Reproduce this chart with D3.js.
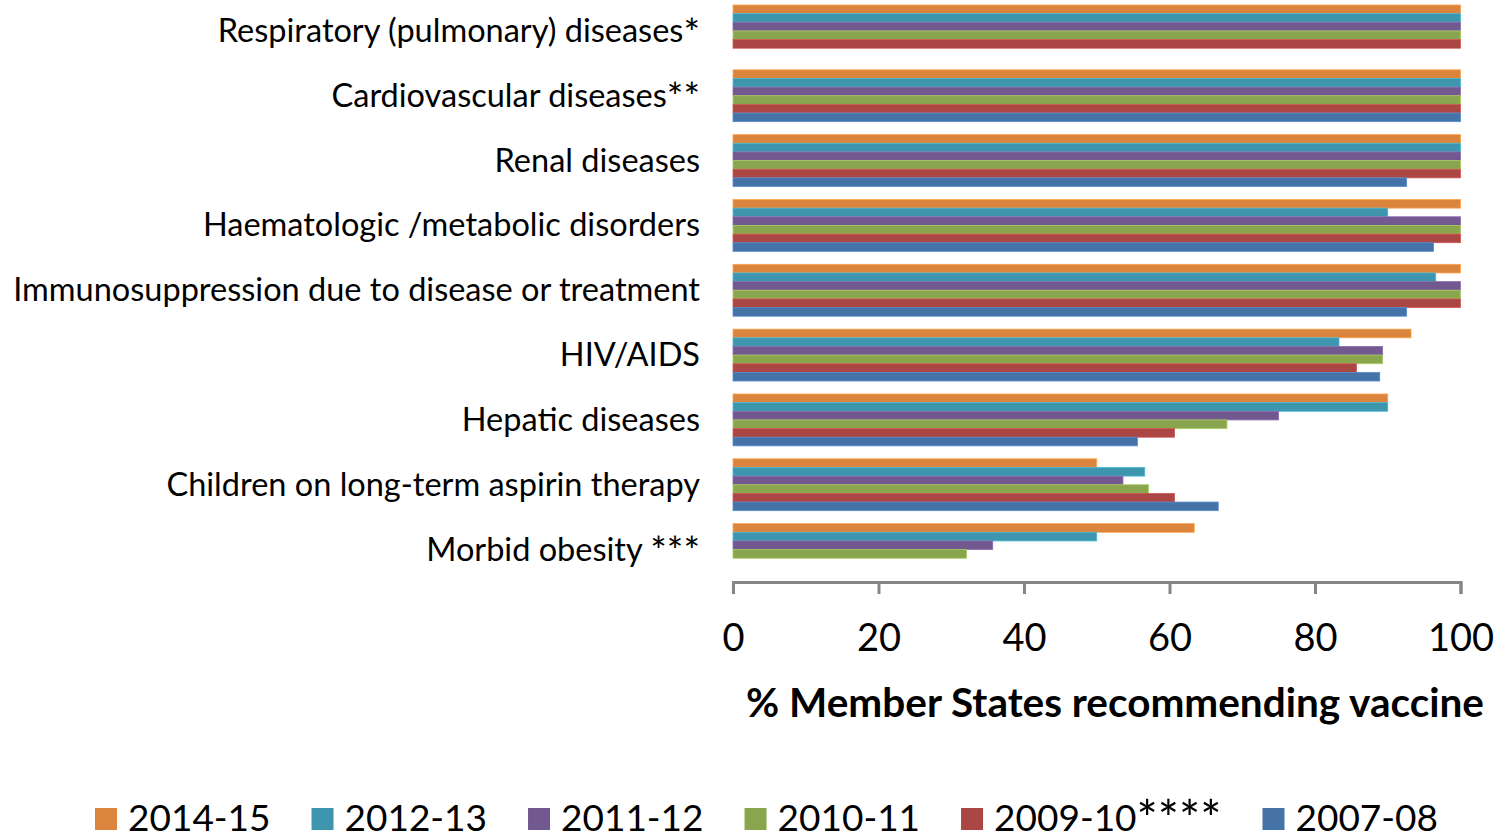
<!DOCTYPE html>
<html><head><meta charset="utf-8">
<script src="https://cdnjs.cloudflare.com/ajax/libs/d3/7.8.5/d3.min.js"></script>
<style>
html,body{margin:0;padding:0;background:#fff;}
svg{display:block;}
text{font-family:Lato,"Open Sans",sans-serif;fill:#000;}
</style></head>
<body>
<svg id="c" width="1501" height="835"></svg>
<script>
const categories = [
  "Respiratory (pulmonary) diseases*",
  "Cardiovascular diseases**",
  "Renal diseases",
  "Haematologic /metabolic disorders",
  "Immunosuppression due to disease or treatment",
  "HIV/AIDS",
  "Hepatic diseases",
  "Children on long-term aspirin therapy",
  "Morbid obesity ***"
];
const seriesNames = ["2014-15","2012-13","2011-12","2010-11","2009-10****","2007-08"];
const seriesColors = ["#DB843D","#3D96AE","#71588F","#89A54E","#AA4643","#4572A7"];
const s2014_15 = [100,100,100,100,100,93.2,90.0,50.0,63.4];
const s2012_13 = [100,100,100,90.0,96.6,83.3,90.0,56.6,50.0];
const s2011_12 = [100,100,100,100,100,89.3,75.0,53.6,35.7];
const s2010_11 = [100,100,100,100,100,89.3,67.9,57.1,32.1];
const s2009_10 = [100,100,100,100,100,85.7,60.7,60.7,null];
const s2007_08 = [null,100,92.6,96.3,92.6,88.9,55.6,66.7,null];
const seriesValues = [s2014_15,s2012_13,s2011_12,s2010_11,s2009_10,s2007_08];
const xTicks = [0,20,40,60,80,100];

const svg = d3.select("#c");
const x = d3.scaleLinear().domain([0,100]).range([733,1460.5]);
const y = d3.scaleBand().domain(categories).range([-1.5,582]).padding(0);
const bw = y.bandwidth()/7.5;
const ys = d3.scaleBand().domain(seriesNames).range([0.75*bw, 6.75*bw]).padding(0);

// write text with larger asterisks (Calibri-like)
function writeText(sel, str, starScale){
  const m = str.match(/^(.*?)(\*+)$/);
  if(!m){ sel.text(str); return; }
  sel.append("tspan").text(m[1]);
  sel.append("tspan").style("font-size", starScale+"em").attr("dy","0.12em").text(m[2]);
}

// bars
seriesNames.forEach((s,si)=>{
  const data = categories.map((c,ci)=>({c, v: seriesValues[si][ci]})).filter(d=>d.v!=null);
  svg.append("g").selectAll("rect").data(data).join("rect")
    .attr("x", x(0))
    .attr("y", d=>y(d.c)+ys(s))
    .attr("width", d=>x(d.v)-x(0))
    .attr("height", ys.bandwidth())
    .attr("fill", seriesColors[si])
    .attr("stroke", d3.color(seriesColors[si]).brighter(0.6))
    .attr("stroke-width", 0.8);
});

// category labels
svg.append("g").selectAll("text").data(categories).join("text")
  .attr("x", 700)
  .attr("y", d=>y(d)+y.bandwidth()/2 + 11)
  .attr("text-anchor","end")
  .style("font-size","32.5px")
  .each(function(d){ writeText(d3.select(this), d, 1.2); });

// axis
const axisY = 582;
const ax = svg.append("g").attr("transform",`translate(0,${axisY})`)
  .call(d3.axisBottom(x).tickValues(xTicks).tickSize(12).tickFormat(d3.format("d")));
ax.select(".domain").attr("stroke","#868686").attr("stroke-width",3);
ax.selectAll(".tick line").attr("stroke","#868686").attr("stroke-width",3);
ax.selectAll(".tick text").attr("fill","#000").attr("y",0).attr("dy","69px")
  .style("font-size","38px").style("font-family","Lato, sans-serif");

svg.append("text").attr("x",1115).attr("y",717).attr("text-anchor","middle")
  .style("font-size","40.5px").style("font-weight","bold")
  .text("% Member States recommending vaccine");

// legend
const lg = svg.append("g");
let lx = 95;
seriesNames.forEach((s,i)=>{
  lg.append("rect").attr("x",lx).attr("y",808).attr("width",22).attr("height",22).attr("fill",seriesColors[i]);
  const t = lg.append("text").attr("x",lx+33).attr("y",831).style("font-size","37px");
  writeText(t, s, 1.35);
  const w = t.node().getComputedTextLength();
  lx = lx + 33 + w + 41;
});
</script>
</body></html>
